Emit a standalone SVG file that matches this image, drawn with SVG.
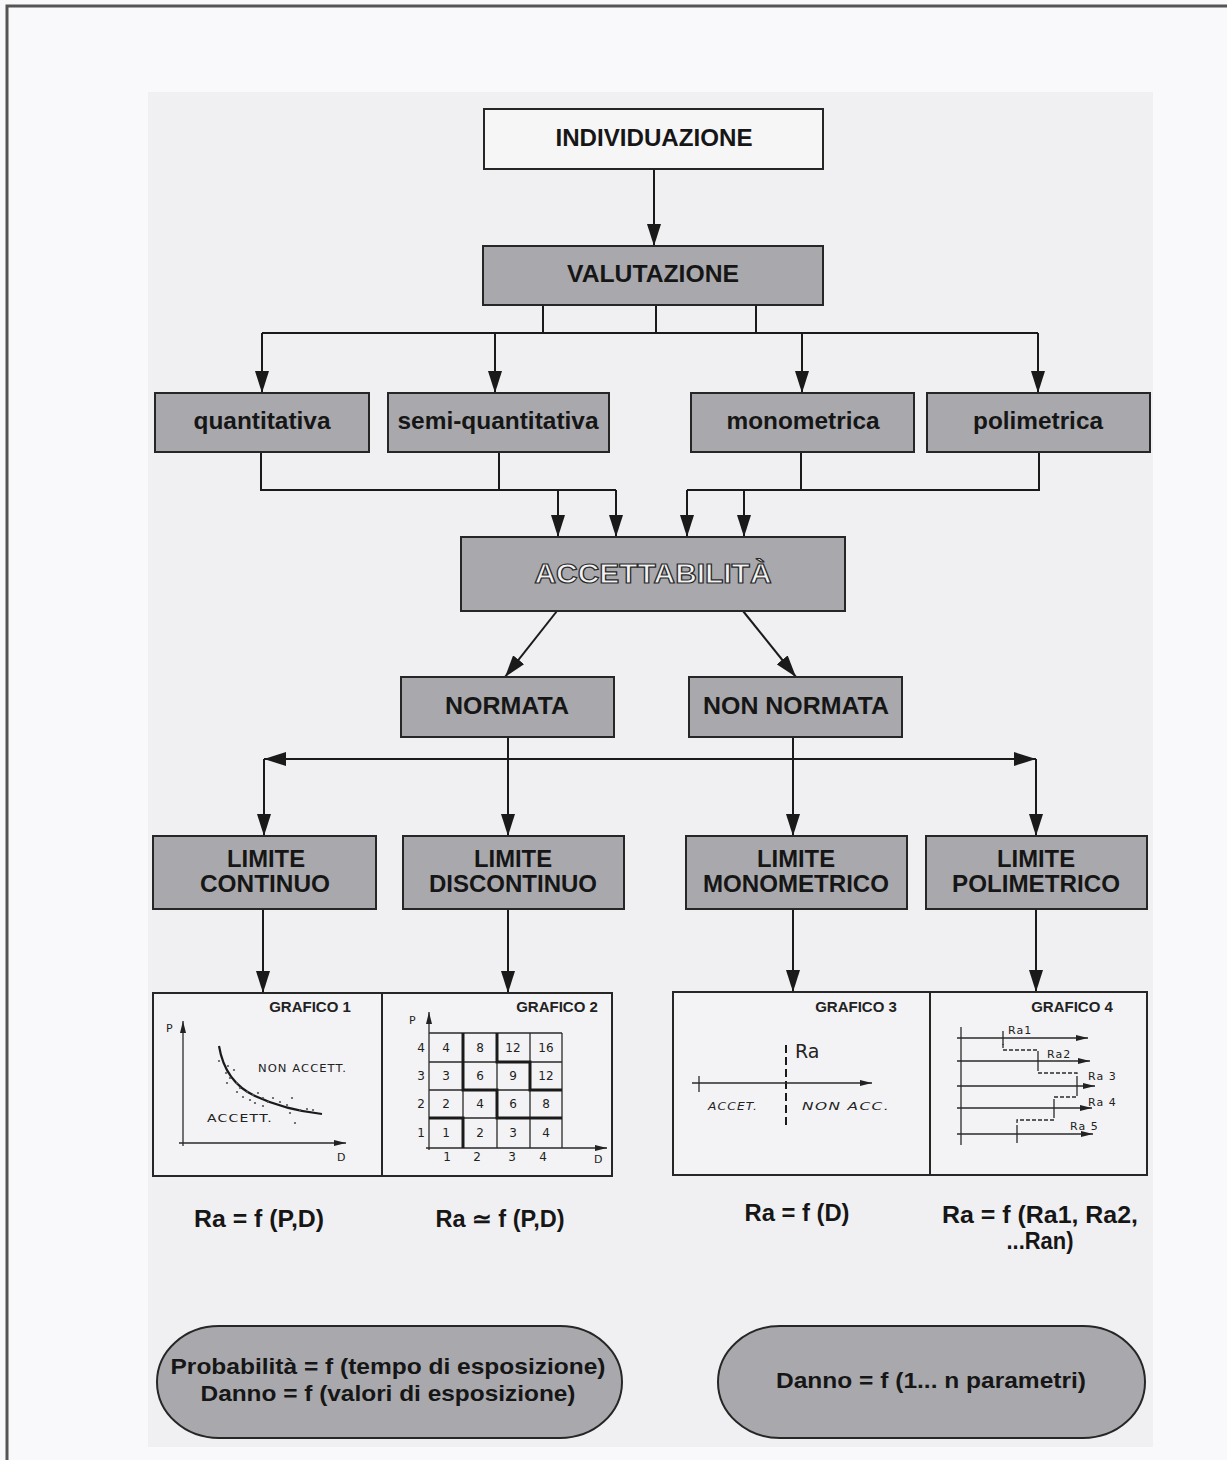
<svg xmlns="http://www.w3.org/2000/svg" width="1227" height="1460" viewBox="0 0 1227 1460">
<defs>
<marker id="ah" viewBox="0 0 22 14" markerWidth="22" markerHeight="14" refX="22" refY="7" orient="auto-start-reverse" markerUnits="userSpaceOnUse">
<path d="M0,0 L22,7 L0,14 z" fill="#1a1a1a"/>
</marker>
<marker id="sa" viewBox="0 0 12 6" markerWidth="12" markerHeight="6" refX="12" refY="3" orient="auto" markerUnits="userSpaceOnUse">
<path d="M0,0 L12,3 L0,6 z" fill="#222"/>
</marker>
<style>
.box{fill:#a9a9ad;stroke:#262626;stroke-width:2}
.wbox{fill:#f6f6f7;stroke:#262626;stroke-width:2}
.gbox{fill:#f3f3f5;stroke:#262626;stroke-width:2}
.lbl{font-family:"Liberation Sans",Arial,sans-serif;font-weight:bold;font-size:24px;fill:#161616;text-anchor:middle}
.ov{font-family:"Liberation Sans",Arial,sans-serif;font-weight:bold;font-size:22px;fill:#161616;text-anchor:middle}
.gt{font-family:"Liberation Sans",Arial,sans-serif;font-weight:bold;font-size:15px;fill:#222;text-anchor:middle}
.hw{font-family:"DejaVu Sans",sans-serif;font-size:11px;fill:#222;letter-spacing:1px}
.num{font-family:"DejaVu Sans",sans-serif;font-size:12px;fill:#222;text-anchor:middle}
.ln{fill:none;stroke:#1a1a1a;stroke-width:2}
.arr{fill:none;stroke:#1a1a1a;stroke-width:2;marker-end:url(#ah)}
.g{fill:none;stroke:#2a2a2a;stroke-width:1.3}
.gk{fill:none;stroke:#1a1a1a;stroke-width:3}
</style>
</defs>
<rect x="0" y="0" width="1227" height="1460" fill="#f9f9fb"/>
<rect x="148" y="92" width="1005" height="1355" fill="#f0f0f3"/>
<path d="M7,1460 L7,6 L1227,6" fill="none" stroke="#555" stroke-width="3"/>

<g id="connectors">
<path class="arr" d="M654,169 L654,246"/>
<path class="ln" d="M543,305 L543,333 M656,305 L656,333 M756,305 L756,333 M262,333 L1038,333"/>
<path class="arr" d="M262,333 L262,393"/>
<path class="arr" d="M495,333 L495,393"/>
<path class="arr" d="M802,333 L802,393"/>
<path class="arr" d="M1038,333 L1038,393"/>
<path class="ln" d="M261,452 L261,490 L616,490 M499,452 L499,490 M801,452 L801,490 M1039,452 L1039,490 L687,490"/>
<path class="arr" d="M558,490 L558,537"/>
<path class="arr" d="M616,490 L616,537"/>
<path class="arr" d="M687,490 L687,537"/>
<path class="arr" d="M744,490 L744,537"/>
<path class="arr" d="M557,611 L505,677"/>
<path class="arr" d="M743,611 L796,677"/>
<path class="arr" d="M508,737 L508,836"/>
<path class="arr" d="M793,737 L793,836"/>
<path class="ln" d="M264,759 L1036,759" marker-start="url(#ah)" marker-end="url(#ah)"/>
<path class="arr" d="M264,759 L264,836"/>
<path class="arr" d="M1036,759 L1036,836"/>
<path class="arr" d="M263,909 L263,993"/>
<path class="arr" d="M508,909 L508,993"/>
<path class="arr" d="M793,909 L793,992"/>
<path class="arr" d="M1036,909 L1036,992"/>
</g>

<g id="individuazione">
<rect class="wbox" x="484" y="109" width="339" height="60"/>
<text class="lbl" x="654" y="146" textLength="197" lengthAdjust="spacingAndGlyphs">INDIVIDUAZIONE</text>
</g>
<g id="valutazione">
<rect class="box" x="483" y="246" width="340" height="59"/>
<text class="lbl" x="653" y="282" textLength="172" lengthAdjust="spacingAndGlyphs">VALUTAZIONE</text>
</g>
<g id="quantitativa">
<rect class="box" x="155" y="393" width="214" height="59"/>
<text class="lbl" x="262" y="429" textLength="137" lengthAdjust="spacingAndGlyphs">quantitativa</text>
</g>
<g id="semi-quantitativa">
<rect class="box" x="388" y="393" width="221" height="59"/>
<text class="lbl" x="498" y="429" textLength="201" lengthAdjust="spacingAndGlyphs">semi-quantitativa</text>
</g>
<g id="monometrica">
<rect class="box" x="691" y="393" width="223" height="59"/>
<text class="lbl" x="803" y="429" textLength="153" lengthAdjust="spacingAndGlyphs">monometrica</text>
</g>
<g id="polimetrica">
<rect class="box" x="927" y="393" width="223" height="59"/>
<text class="lbl" x="1038" y="429" textLength="130" lengthAdjust="spacingAndGlyphs">polimetrica</text>
</g>
<g id="accettabilita">
<rect class="box" x="461" y="537" width="384" height="74"/>
<text x="653" y="583" text-anchor="middle" font-family="Liberation Sans, Arial, sans-serif" font-weight="bold" font-size="27" fill="#f2f2f2" stroke="#2a2a2a" stroke-width="1.2" textLength="237" lengthAdjust="spacingAndGlyphs">ACCETTABILITÀ</text>
</g>
<g id="normata">
<rect class="box" x="401" y="677" width="213" height="60"/>
<text class="lbl" x="507" y="714" textLength="124" lengthAdjust="spacingAndGlyphs">NORMATA</text>
</g>
<g id="non-normata">
<rect class="box" x="689" y="677" width="213" height="60"/>
<text class="lbl" x="796" y="714" textLength="186" lengthAdjust="spacingAndGlyphs">NON NORMATA</text>
</g>
<g id="limite-continuo">
<rect class="box" x="153" y="836" width="223" height="73"/>
<text class="lbl" x="266" y="867" textLength="78" lengthAdjust="spacingAndGlyphs">LIMITE</text>
<text class="lbl" x="265" y="892" textLength="130" lengthAdjust="spacingAndGlyphs">CONTINUO</text>
</g>
<g id="limite-discontinuo">
<rect class="box" x="403" y="836" width="221" height="73"/>
<text class="lbl" x="513" y="867" textLength="78" lengthAdjust="spacingAndGlyphs">LIMITE</text>
<text class="lbl" x="513" y="892" textLength="168" lengthAdjust="spacingAndGlyphs">DISCONTINUO</text>
</g>
<g id="limite-monometrico">
<rect class="box" x="686" y="836" width="221" height="73"/>
<text class="lbl" x="796" y="867" textLength="78" lengthAdjust="spacingAndGlyphs">LIMITE</text>
<text class="lbl" x="796" y="892" textLength="186" lengthAdjust="spacingAndGlyphs">MONOMETRICO</text>
</g>
<g id="limite-polimetrico">
<rect class="box" x="926" y="836" width="221" height="73"/>
<text class="lbl" x="1036" y="867" textLength="78" lengthAdjust="spacingAndGlyphs">LIMITE</text>
<text class="lbl" x="1036" y="892" textLength="168" lengthAdjust="spacingAndGlyphs">POLIMETRICO</text>
</g>

<g id="grafico1">
<rect class="gbox" x="153" y="993" width="229" height="183"/>
<text class="gt" x="310" y="1012">GRAFICO 1</text>
<path class="g" d="M183,1146 L183,1021" marker-end="url(#sa)"/>
<path class="g" d="M179,1143 L346,1143" marker-end="url(#sa)"/>
<text class="hw" x="166" y="1032" font-size="13">P</text>
<text class="hw" x="337" y="1161" font-size="13">D</text>
<path d="M219,1046 Q225,1082 255,1096 Q285,1110 322,1114" fill="none" stroke="#1a1a1a" stroke-width="2.2"/>
<g fill="#555">
<circle cx="219" cy="1061" r="1.1"/><circle cx="228" cy="1066" r="1.1"/><circle cx="234" cy="1070" r="1.1"/><circle cx="226" cy="1073" r="1.1"/><circle cx="230" cy="1078" r="1.1"/><circle cx="227" cy="1083" r="1.1"/><circle cx="237" cy="1083" r="1.1"/><circle cx="240" cy="1088" r="1.1"/><circle cx="247" cy="1092" r="1.1"/><circle cx="243" cy="1097" r="1.1"/><circle cx="253" cy="1095" r="1.1"/><circle cx="258" cy="1093" r="1.1"/><circle cx="263" cy="1098" r="1.1"/><circle cx="268" cy="1102" r="1.1"/><circle cx="273" cy="1098" r="1.1"/><circle cx="280" cy="1102" r="1.1"/><circle cx="287" cy="1105" r="1.1"/><circle cx="292" cy="1098" r="1.1"/><circle cx="290" cy="1113" r="1.1"/><circle cx="295" cy="1123" r="1.1"/><circle cx="300" cy="1110" r="1.1"/><circle cx="307" cy="1109" r="1.1"/><circle cx="313" cy="1110" r="1.1"/><circle cx="255" cy="1103" r="1.1"/><circle cx="263" cy="1106" r="1.1"/><circle cx="237" cy="1092" r="1.1"/><circle cx="250" cy="1100" r="1.1"/>
</g>
<text class="hw" x="258" y="1072" font-size="12" textLength="89" lengthAdjust="spacingAndGlyphs">NON ACCETT.</text>
<text class="hw" x="207" y="1122" font-size="12" textLength="66" lengthAdjust="spacingAndGlyphs">ACCETT.</text>
</g>

<g id="grafico2">
<rect class="gbox" x="382" y="993" width="230" height="183"/>
<text class="gt" x="557" y="1012">GRAFICO 2</text>
<path class="g" d="M429,1150 L429,1012" marker-end="url(#sa)"/>
<path class="g" d="M426,1148 L607,1148" marker-end="url(#sa)"/>
<text class="hw" x="409" y="1024" font-size="13">P</text>
<text class="hw" x="594" y="1163" font-size="13">D</text>
<path class="g" d="M429,1033 L562,1033 M429,1062 L562,1062 M429,1090 L562,1090 M429,1118 L562,1118 M463,1033 L463,1148 M497,1033 L497,1148 M530,1033 L530,1148 M562,1033 L562,1148"/>
<path class="gk" d="M429,1118 L463,1118 L463,1148"/>
<path class="gk" d="M463,1033 L463,1090 L497,1090 L497,1118 L562,1118"/>
<path class="gk" d="M497,1033 L497,1062 L530,1062 L530,1090 L562,1090"/>
<g class="num">
<text x="446" y="1052">4</text><text x="480" y="1052">8</text><text x="513" y="1052">12</text><text x="546" y="1052">16</text>
<text x="446" y="1080">3</text><text x="480" y="1080">6</text><text x="513" y="1080">9</text><text x="546" y="1080">12</text>
<text x="446" y="1108">2</text><text x="480" y="1108">4</text><text x="513" y="1108">6</text><text x="546" y="1108">8</text>
<text x="446" y="1137">1</text><text x="480" y="1137">2</text><text x="513" y="1137">3</text><text x="546" y="1137">4</text>
<text x="421" y="1052">4</text><text x="421" y="1080">3</text><text x="421" y="1108">2</text><text x="421" y="1137">1</text>
<text x="447" y="1161">1</text><text x="477" y="1161">2</text><text x="512" y="1161">3</text><text x="543" y="1161">4</text>
</g>
</g>

<g id="grafico3">
<rect class="gbox" x="673" y="992" width="257" height="183"/>
<text class="gt" x="856" y="1012">GRAFICO 3</text>
<path d="M786,1045 L786,1128" fill="none" stroke="#1a1a1a" stroke-width="2" stroke-dasharray="8,4"/>
<text x="795" y="1058" font-family="DejaVu Sans, sans-serif" font-size="19" fill="#222">Ra</text>
<path class="g" d="M692,1083 L872,1083" stroke-width="1.6" marker-end="url(#sa)"/>
<path class="g" d="M699,1076 L699,1092"/>
<text class="hw" x="708" y="1110" font-size="12" font-style="italic" textLength="50" lengthAdjust="spacingAndGlyphs">ACCET.</text>
<text class="hw" x="802" y="1110" font-size="12" font-style="italic" textLength="88" lengthAdjust="spacingAndGlyphs">NON ACC.</text>
</g>

<g id="grafico4">
<rect class="gbox" x="930" y="992" width="217" height="183"/>
<text class="gt" x="1072" y="1012">GRAFICO 4</text>
<path class="g" d="M961,1027 L961,1145"/>
<path class="g" d="M957,1038 L1088,1038" marker-end="url(#sa)"/>
<path class="g" d="M957,1061 L1090,1061" marker-end="url(#sa)"/>
<path class="g" d="M957,1086 L1095,1086" marker-end="url(#sa)"/>
<path class="g" d="M957,1108 L1092,1108" marker-end="url(#sa)"/>
<path class="g" d="M957,1134 L1093,1134" marker-end="url(#sa)"/>
<path d="M1003,1044 L1003,1050 L1038,1050 L1038,1055 M1038,1067 L1038,1073 L1077,1073 L1077,1080 M1077,1092 L1077,1097 L1054,1097 L1054,1102 M1054,1114 L1054,1120 L1017,1120 L1017,1127" fill="none" stroke="#2a2a2a" stroke-width="1.3" stroke-dasharray="4,2"/>
<path class="g" d="M1003,1031 L1003,1045 M1038,1055 L1038,1067 M1077,1080 L1077,1092 M1054,1102 L1054,1114 M1017,1127 L1017,1143"/>
<g class="hw" font-size="11">
<text x="1008" y="1034">Ra1</text>
<text x="1047" y="1058">Ra2</text>
<text x="1088" y="1080">Ra 3</text>
<text x="1088" y="1106">Ra 4</text>
<text x="1070" y="1130">Ra 5</text>
</g>
</g>

<g id="formule">
<text class="lbl" x="259" y="1227" textLength="130" lengthAdjust="spacingAndGlyphs">Ra = f (P,D)</text>
<text class="lbl" x="500" y="1227" textLength="129" lengthAdjust="spacingAndGlyphs">Ra ≃ f (P,D)</text>
<text class="lbl" x="797" y="1221" textLength="105" lengthAdjust="spacingAndGlyphs">Ra = f (D)</text>
<text class="lbl" x="1040" y="1223" textLength="196" lengthAdjust="spacingAndGlyphs">Ra = f (Ra1, Ra2,</text>
<text class="lbl" x="1040" y="1249" textLength="67" lengthAdjust="spacingAndGlyphs">...Ran)</text>
</g>

<g id="ovale-sinistro">
<rect class="box" x="157" y="1326" width="465" height="112" rx="62" ry="56"/>
<text class="ov" x="388" y="1374" textLength="435" lengthAdjust="spacingAndGlyphs">Probabilità = f (tempo di esposizione)</text>
<text class="ov" x="388" y="1401" textLength="375" lengthAdjust="spacingAndGlyphs">Danno = f (valori di esposizione)</text>
</g>
<g id="ovale-destro">
<rect class="box" x="718" y="1326" width="427" height="112" rx="62" ry="56"/>
<text class="ov" x="931" y="1388" textLength="310" lengthAdjust="spacingAndGlyphs">Danno = f (1... n parametri)</text>
</g>
</svg>
